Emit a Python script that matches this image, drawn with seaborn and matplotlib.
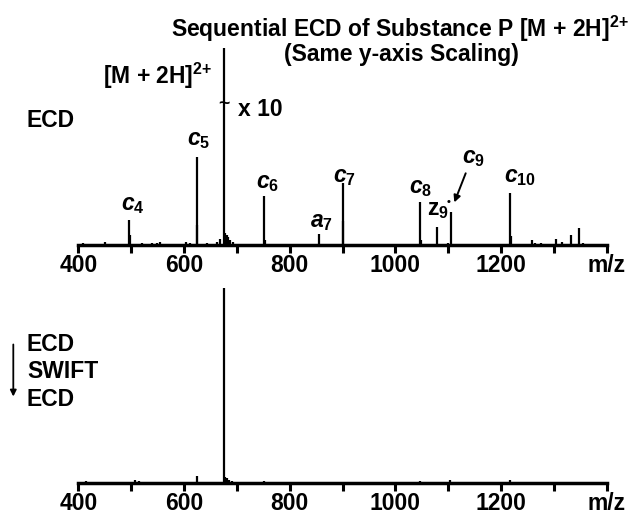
import numpy as np
import seaborn as sns
import matplotlib.pyplot as plt

# peak lists (m/z, relative height)
top_mz = [409, 413, 450, 496, 497, 520, 530, 540, 548, 554, 590, 604, 612,
          624, 625, 643, 662, 668, 675, 678, 681, 684, 688, 692, 752, 753,
          856, 900, 901, 980, 1047, 1048, 1079, 1100, 1105, 1140, 1217, 1218,
          1258, 1265, 1275, 1290, 1304, 1315, 1332, 1348, 1356]
top_int = [2, 1.5, 3.5, 25, 10, 2, 1.5, 2, 2, 3, 1.5, 3, 2,
           88, 20, 2, 3, 6, 197, 12, 10, 8, 5, 3, 49, 5,
           11, 62, 24, 1.5, 43, 5, 18, 2, 33, 1.5, 52, 9,
           5, 2, 2, 1.5, 6, 3, 10, 17, 2]

bottom_mz = [415, 507, 515, 568, 624, 675, 678, 682, 686, 690, 752, 850,
             1046, 1104, 1217, 1300]
bottom_int = [2, 3, 2, 1.5, 7, 195, 6, 5, 3, 2, 2, 1, 2, 3, 3, 1.5]

peak_labels = [r'$c_4$', r'$c_5$', r'$c_6$', r'$a_7$', r'$c_7$', r'$c_8$',
               r'$\mathrm{z}_9$', r'$c_9$', r'$c_{10}$']
label_mz = [480, 605, 737, 838, 882, 1026, 1059, 1127, 1205]
label_h = [35, 100, 57, 18, 63, 52, 30, 82, 63]

tick_vals = [400, 600, 800, 1000, 1200, 1400]
tick_text = ['400', '600', '800', '1000', '1200', 'm/z']

sns.set_theme(style='white')
plt.rcParams['font.family'] = ['Liberation Sans', 'DejaVu Sans']
plt.rcParams['font.weight'] = 'bold'
plt.rcParams['text.color'] = 'black'
plt.rcParams['xtick.color'] = 'black'
plt.rcParams['xtick.labelcolor'] = 'black'
plt.rcParams['mathtext.fontset'] = 'custom'
plt.rcParams['mathtext.rm'] = 'Liberation Sans:bold'
plt.rcParams['mathtext.it'] = 'Liberation Sans:italic:bold'
plt.rcParams['mathtext.bf'] = 'Liberation Sans:bold'
FS = 16.5

W, H = 636, 516
fig = plt.figure(figsize=(W / 100, H / 100), dpi=100)

def fx(x):
    return x / W

def fy(y):
    return 1 - y / H

left, width = fx(78.3), 528.4 / W
ax1 = fig.add_axes([left, fy(245), width, 200 / H])
ax2 = fig.add_axes([left, fy(483.3), width, 200 / H])

for ax, mz, inten in [(ax1, top_mz, top_int), (ax2, bottom_mz, bottom_int)]:
    ax.vlines(mz, 0, inten, color='black', lw=1.6)
    ax.set_xlim(400, 1400)
    ax.set_ylim(0, 200)
    sns.despine(ax=ax, left=True)
    ax.spines['bottom'].set_linewidth(2.5)
    ax.spines['bottom'].set_color('black')
    ax.set_yticks([])
    ax.set_xticks(tick_vals)
    ax.set_xticklabels(tick_text, fontsize=FS, fontweight='bold', color='black')
    ax.set_xticks(np.arange(500, 1400, 100), minor=True)
    ax.tick_params(axis='x', which='major', direction='out', length=5.8,
                   width=2.2, pad=0.5, color='black', bottom=True)
    ax.tick_params(axis='x', which='minor', direction='out', length=5.8,
                   width=2.2, color='black', bottom=True)
    ax.patch.set_alpha(0)

for lab, x, y in zip(peak_labels, label_mz, label_h):
    ax1.text(x, y, lab, ha='left', va='baseline', fontsize=FS, color='black')

# radical dot on z9
ax1.text(1100, 43, '•', ha='center', va='center', fontsize=8, color='black')

# c9 arrow
fig.add_artist(plt.Annotation('', xy=(fx(453.3), fy(205)), xytext=(fx(466.7), fy(170.7)),
                              xycoords='figure fraction',
                              arrowprops=dict(arrowstyle='-|>', color='black', lw=1.4,
                                              mutation_scale=10)))

fig.text(fx(400), fy(25.8), r'Sequential ECD of Substance P [M + 2H]$^{2{+}}$',
         ha='center', va='center_baseline', fontsize=FS)
fig.text(fx(401), fy(52.5), '(Same y-axis Scaling)', ha='center', va='center_baseline',
         fontsize=FS)
fig.text(fx(158), fy(72.5), r'[M + 2H]$^{2{+}}$', ha='center', va='center_baseline',
         fontsize=FS)
fig.text(fx(223.5), fy(104), '~', ha='center', va='center', fontsize=14)
fig.text(fx(260), fy(106.5), 'x 10', ha='center', va='center_baseline', fontsize=FS)
fig.text(fx(27), fy(118.3), 'ECD', ha='left', va='center_baseline', fontsize=FS)

fig.text(fx(27), fy(342), 'ECD', ha='left', va='center_baseline', fontsize=FS)
fig.text(fx(27), fy(369.5), 'SWIFT', ha='left', va='center_baseline', fontsize=FS)
fig.text(fx(27), fy(397.5), 'ECD', ha='left', va='center_baseline', fontsize=FS)
fig.add_artist(plt.Annotation('', xy=(fx(13.3), fy(399.3)), xytext=(fx(13.3), fy(341.7)),
                              xycoords='figure fraction',
                              arrowprops=dict(arrowstyle='-|>', color='black', lw=1.3,
                                              mutation_scale=9)))

fig.savefig('out.png', dpi=100)
